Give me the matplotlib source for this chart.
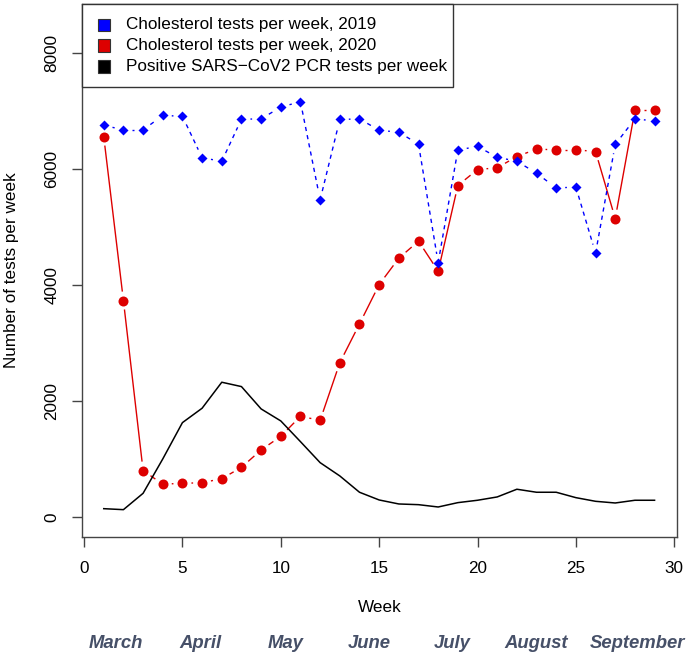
import numpy as np
import matplotlib.pyplot as plt
from matplotlib.patches import Rectangle

plt.rcParams['font.family'] = ['Liberation Sans', 'DejaVu Sans']

weeks = list(range(1, 30))

# cholesterol tests per week, 2019 (blue)
chol2019 = [6750, 6670, 6670, 6920, 6905, 6190, 6130, 6855, 6860, 7065,
            7155, 5465, 6850, 6860, 6665, 6630, 6425, 4380, 6325, 6385,
            6200, 6130, 5925, 5670, 5685, 4545, 6420, 6860, 6825]

# cholesterol tests per week, 2020 (red)
chol2020 = [6555, 3730, 800, 565, 580, 590, 660, 855, 1155, 1390,
            1735, 1665, 2658, 3327, 4005, 4460, 4753, 4236, 5712, 5988,
            6017, 6212, 6339, 6327, 6327, 6298, 5143, 7005, 7005]

# positive SARS-CoV2 PCR tests per week (black)
pcr = [143, 126, 408, 1000, 1626, 1874, 2322, 2247, 1862, 1655,
       1298, 936, 707, 426, 293, 224, 212, 172, 247, 288,
       345, 478, 426, 426, 333, 270, 241, 288, 288]

months = ["March", "April", "May", "June", "July", "August", "September"]
month_x = [1.63, 5.89, 10.26, 14.48, 18.7, 23.0, 28.15]

legend_labels = ["Cholesterol tests per week, 2019",
                 "Cholesterol tests per week, 2020",
                 "Positive SARS\u2212CoV2 PCR tests per week"]
legend_colors = ["#0000ff", "#dd0000", "#000000"]

W, H = 694, 661
fig = plt.figure(figsize=(W / 100, H / 100), dpi=100)
ax = fig.add_axes([82.3 / W, (H - 536.7) / H, (677 - 82.3) / W, (536.7 - 4.3) / H])
ax.set_xlim(-0.09, 30.14)
ax.set_ylim(-340, 8835)


def gapped(x, y, gap, **kw):
    # like R type="b": segments stop short of the points
    pts = ax.transData.transform(np.column_stack([x, y]))
    inv = ax.transData.inverted()
    for p, q in zip(pts[:-1], pts[1:]):
        d = q - p
        L = np.hypot(*d)
        if L <= 2 * gap:
            continue
        u = d / L
        seg = inv.transform(np.array([p + u * gap, q - u * gap]))
        ax.plot(seg[:, 0], seg[:, 1], **kw)


gap = 9.0
gapped(weeks, chol2020, gap, color="#dd0000", lw=1.0, solid_capstyle='butt')
ax.plot(weeks, chol2020, 'o', color="#dd0000", ms=7.2, mec='none')
gapped(weeks, chol2019, gap, color="#0000ff", lw=1.0, dashes=(3, 3))
ax.plot(weeks, chol2019, 'D', color="#0000ff", ms=4.8, mec='none')
ax.plot(weeks, pcr, color="black", lw=1.1)

for s in ax.spines.values():
    s.set_color("#444444")
    s.set_linewidth(1.0)
ax.set_xticks([0, 5, 10, 15, 20, 25, 30])
ax.set_yticks([0, 2000, 4000, 6000, 8000])
ax.tick_params(length=7.5, width=1.0, color="#444444", labelsize=12.3)
ax.tick_params(axis='x', pad=10)
ax.tick_params(axis='y', pad=9, labelrotation=90)
for t in ax.get_yticklabels():
    t.set_va('center')

fig.text(380 / W, 1 - 608 / H, "Week", ha='center', va='center', fontsize=12.3)
fig.text(12 / W, 1 - 270 / H, "Number of tests per week", ha='center', va='center',
         rotation=90, fontsize=12.3)
for m, mx in zip(months, month_x):
    px = ax.transData.transform((mx, 0))[0]
    fig.text(px / W, 1 - 643 / H, m, ha='center', va='center', fontsize=13.3,
             fontweight='bold', fontstyle='italic', color="#465068")

# legend box drawn by hand
fig.patches.append(Rectangle((82.3 / W, 1 - 87 / H), (453 - 82.3) / W, (87 - 4.3) / H,
                             transform=fig.transFigure, facecolor='white',
                             edgecolor='#333333', lw=1.0, zorder=5))
for i, (lab, c) in enumerate(zip(legend_labels, legend_colors)):
    yc = 25 + i * 20.6
    fig.patches.append(Rectangle((97.5 / W, 1 - (yc + 6.3) / H), 12.6 / W, 12.6 / H,
                                 transform=fig.transFigure, facecolor=c,
                                 edgecolor='#333333', lw=0.8, zorder=6))
    fig.text(126 / W, 1 - yc / H, lab, ha='left', va='center', fontsize=12.3, zorder=7)

fig.savefig("out.png", dpi=100)
